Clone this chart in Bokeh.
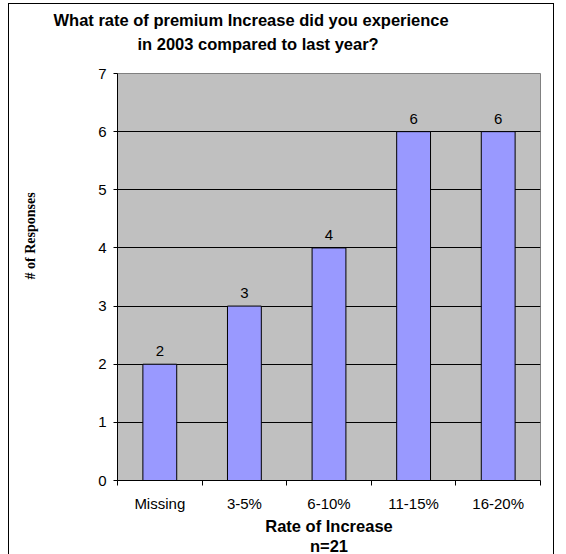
from bokeh.plotting import figure
from bokeh.models import (Range1d, LinearAxis, FixedTicker, Title,
                          ColumnDataSource, LabelSet, Grid)
from bokeh.core.properties import value
from bokeh.embed import file_html
from bokeh.resources import INLINE

categories = ["Missing", "3-5%", "6-10%", "11-15%", "16-20%"]
responses = [2, 3, 4, 6, 6]
y_ticks = [0, 1, 2, 3, 4, 5, 6, 7]
title_lines = ["What rate of premium Increase did you experience",
               "in 2003 compared to last year?"]
x_title = "Rate of Increase"
x_subtitle = "n=21"
y_title = "# of Responses"

SANS = "Liberation Sans"
SERIF = "Liberation Serif"

n = len(categories)
centers = [i + 0.5 for i in range(n)]
edges = list(range(n + 1))

W, H = 544, 550
p = figure(width=W, height=H, x_range=Range1d(0, n), y_range=Range1d(0, 7),
           output_backend="svg", toolbar_location=None,
           x_axis_location=None, y_axis_location=None,
           min_border_left=108, min_border_right=13, min_border_top=69, min_border_bottom=73)
p.styles = {"outline": "1px solid black", "margin-left": "9px", "margin-top": "4px"}
p.background_fill_color = "#C0C0C0"
p.border_fill_color = "white"
p.outline_line_color = "#808080"
p.outline_line_width = 1
p.center = [r for r in p.center if not isinstance(r, Grid)]


def spacer(size):
    return Title(text=" ", text_font_size="1px", standoff=size, text_color="white")


# horizontal gridlines
p.add_layout(Grid(dimension=1, ticker=FixedTicker(ticks=y_ticks[1:-1]),
                  grid_line_color="black", grid_line_width=1))

# y axis
yax = LinearAxis(ticker=FixedTicker(ticks=y_ticks), major_tick_in=0, major_tick_out=4,
                 minor_tick_line_color=None, axis_line_color="black",
                 major_tick_line_color="black", major_label_standoff=7,
                 major_label_text_font=SANS, major_label_text_font_size="15px",
                 major_label_text_color="black")
p.add_layout(yax, "left")
p.add_layout(spacer(55), "left")
p.add_layout(Title(text=y_title, align="left", offset=201, standoff=0,
                   text_font=SERIF, text_font_size="14px", text_font_style="bold",
                   text_color="black"), "left")

# x axis: labels at centres, ticks at category boundaries
xax = LinearAxis(ticker=FixedTicker(ticks=centers, minor_ticks=edges),
                 major_label_overrides={c: lab for c, lab in zip(centers, categories)},
                 major_tick_in=0, major_tick_out=0, major_tick_line_color=None,
                 minor_tick_in=0, minor_tick_out=5, minor_tick_line_color="black",
                 axis_line_color="black", major_label_standoff=9,
                 major_label_text_font=SANS, major_label_text_font_size="15px",
                 major_label_text_color="black")
p.add_layout(xax, "below")
p.add_layout(Title(text=x_title, align="center", standoff=0, text_font=SANS,
                   text_font_size="16.5px", text_font_style="bold", text_color="black"), "below")
p.add_layout(Title(text=x_subtitle, align="center", standoff=0, text_font=SANS,
                   text_font_size="16.5px", text_font_style="bold", text_color="black"), "below")

# main title: line 1 is the plot title (outermost), line 2 sits nearer the frame
p.title = Title(text=title_lines[0], align="left", offset=-64, standoff=0, text_font=SANS,
                text_font_size="16.5px", text_font_style="bold", text_color="black")
p.add_layout(spacer(14), "above")
p.add_layout(Title(text=title_lines[1], align="left", offset=20, standoff=8, text_font=SANS,
                   text_font_size="16.5px", text_font_style="bold", text_color="black"), "above")

src = ColumnDataSource(dict(x=centers, val=responses, txt=[str(v) for v in responses]))
p.vbar(x="x", top="val", width=0.4, source=src, fill_color="#9999FF",
       line_color="black", line_width=1)
p.add_layout(LabelSet(x="x", y="val", text="txt", source=src, text_align="center",
                      text_baseline="bottom", y_offset=8, text_font=value(SANS),
                      text_font_size="15px", text_color="black"))

open("out.html", "w").write(file_html(p, INLINE))
